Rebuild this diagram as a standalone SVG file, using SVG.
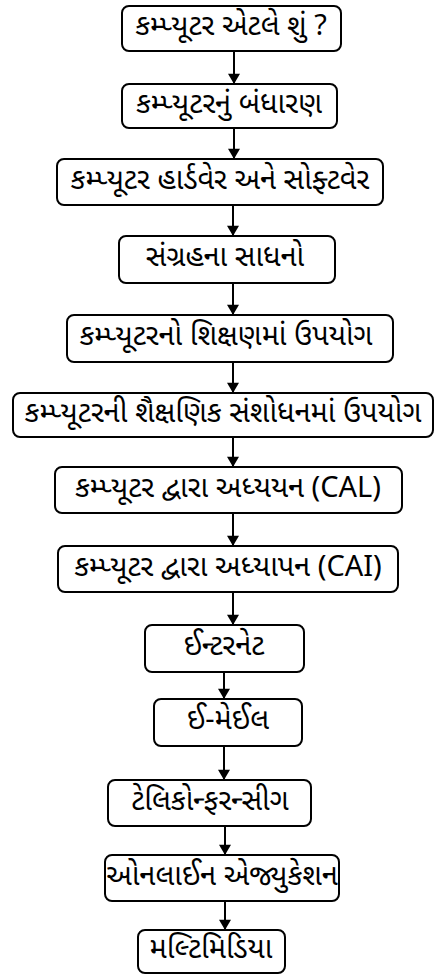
<svg xmlns="http://www.w3.org/2000/svg" width="437" height="974" viewBox="0 0 437 974">
<style>
rect{fill:#fff;stroke:#000;stroke-width:2}
text{font-family:"Noto Sans Gujarati","Lohit Gujarati","Noto Sans","DejaVu Sans",sans-serif;font-size:29px;fill:#000;text-anchor:middle;dominant-baseline:central}
.c line{stroke:#000;stroke-width:2}
</style>
<defs><marker id="a" viewBox="0 0 12 14" refX="12" refY="7" markerWidth="14" markerHeight="12" markerUnits="userSpaceOnUse" orient="auto"><path d="M0,0L12,7L0,14z" fill="#000"/></marker></defs>
<g class="c">
<line x1="234" y1="51" x2="234" y2="84" marker-end="url(#a)"/>
<line x1="234" y1="128" x2="234" y2="159" marker-end="url(#a)"/>
<line x1="233" y1="205" x2="233" y2="236" marker-end="url(#a)"/>
<line x1="233" y1="283" x2="233" y2="315" marker-end="url(#a)"/>
<line x1="233" y1="362" x2="233" y2="393" marker-end="url(#a)"/>
<line x1="233" y1="437" x2="233" y2="467" marker-end="url(#a)"/>
<line x1="233" y1="513" x2="233" y2="546" marker-end="url(#a)"/>
<line x1="233" y1="592" x2="233" y2="625" marker-end="url(#a)"/>
<line x1="224" y1="672" x2="224" y2="699" marker-end="url(#a)"/>
<line x1="224" y1="746" x2="224" y2="780" marker-end="url(#a)"/>
<line x1="225" y1="826" x2="225" y2="855" marker-end="url(#a)"/>
<line x1="225" y1="901" x2="225" y2="930" marker-end="url(#a)"/>
</g>
<g id="n1"><rect x="122" y="6" width="219" height="45" rx="7"/><text x="231" y="28">કમ્પ્યૂટર એટલે શું ?</text></g>
<g id="n2"><rect x="122" y="84" width="215" height="44" rx="7"/><text x="229" y="106">કમ્પ્યૂટરનું બંધારણ</text></g>
<g id="n3"><rect x="57" y="159" width="326" height="46" rx="7"/><text x="220" y="182">કમ્પ્યૂટર હાર્ડવેર અને સોફ્ટવેર</text></g>
<g id="n4"><rect x="119" y="236" width="216" height="47" rx="7"/><text x="225" y="259">સંગ્રહના સાધનો</text></g>
<g id="n5"><rect x="67" y="315" width="326" height="47" rx="7"/><text x="226" y="338">કમ્પ્યૂટરનો શિક્ષણમાં ઉપયોગ</text></g>
<g id="n6"><rect x="13" y="393" width="420" height="44" rx="7"/><text x="223" y="415">કમ્પ્યૂટરની શૈક્ષણિક સંશોધનમાં ઉપયોગ</text></g>
<g id="n7"><rect x="55" y="467" width="347" height="46" rx="7"/><text x="228" y="490">કમ્પ્યૂટર દ્વારા અધ્યયન (CAL)</text></g>
<g id="n8"><rect x="58" y="546" width="340" height="46" rx="7"/><text x="228" y="569">કમ્પ્યૂટર દ્વારા અધ્યાપન (CAI)</text></g>
<g id="n9"><rect x="145" y="625" width="159" height="47" rx="7"/><text x="224" y="648">ઈન્ટરનેટ</text></g>
<g id="n10"><rect x="154" y="699" width="148" height="47" rx="7"/><text x="228" y="722">ઈ-મેઈલ</text></g>
<g id="n11"><rect x="108" y="780" width="203" height="46" rx="7"/><text x="210" y="803">ટેલિકોન્ફરન્સીગ</text></g>
<g id="n12"><rect x="105" y="855" width="234" height="46" rx="7"/><text x="222" y="878">ઓનલાઈન એજ્યુકેશન</text></g>
<g id="n13"><rect x="138" y="930" width="147" height="43" rx="7"/><text x="211" y="951">મલ્ટિમિડિયા</text></g>
</svg>
